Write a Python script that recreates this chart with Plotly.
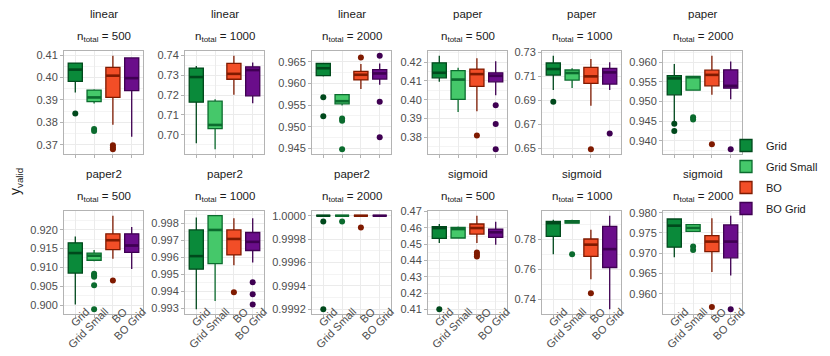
"""Faceted boxplots of y_valid per tuning method."""

import plotly.graph_objects as go

W, H = 830, 356

METHODS = ["Grid", "Grid Small", "BO", "BO Grid"]
PANEL_FN = ["linear"] * 3 + ["paper"] * 3 + ["paper2"] * 3 + ["sigmoid"] * 3
PANEL_N = [500, 1000, 2000] * 4

# box summaries, one row per panel, one value per method
LOWER = [
    [0.3933, 0.3884, 0.3789, 0.3736],
    [0.6958, 0.6928, 0.7201, 0.7159],
    [0.9616, 0.9549, 0.9587, 0.9597],
    [0.4095, 0.3934, 0.3939, 0.4023],
    [0.6986, 0.7003, 0.6856, 0.6986],
    [0.9447, 0.9528, 0.9517, 0.9506],
    [0.9002, 0.9116, 0.9123, 0.9096],
    [0.99293, 0.99342, 0.99553, 0.99569],
    [1.0, 1.0, 1.0, 1.0],
    [0.4507, 0.4538, 0.4507, 0.4497],
    [0.7702, 0.7910, 0.7535, 0.7333],
    [0.96902, 0.97541, 0.96533, 0.96451],
]
Q1 = [
    [0.3983, 0.3892, 0.3911, 0.3941],
    [0.7164, 0.7032, 0.7279, 0.7196],
    [0.9618, 0.9553, 0.9608, 0.9610],
    [0.4116, 0.4002, 0.4071, 0.4095],
    [0.7111, 0.7069, 0.7042, 0.7036],
    [0.9517, 0.9529, 0.9540, 0.9534],
    [0.9085, 0.9119, 0.9147, 0.9140],
    [0.99529, 0.99562, 0.99613, 0.99639],
    [1.0, 1.0, 1.0, 1.0],
    [0.4536, 0.4538, 0.4562, 0.4542],
    [0.7821, 0.7910, 0.7687, 0.7613],
    [0.97148, 0.97541, 0.97041, 0.96885],
]
MEDIAN = [
    [0.4035, 0.3911, 0.4008, 0.3997],
    [0.7290, 0.7050, 0.7306, 0.7325],
    [0.9635, 0.9559, 0.9620, 0.9623],
    [0.4143, 0.4107, 0.4136, 0.4127],
    [0.7161, 0.7128, 0.7100, 0.7133],
    [0.9559, 0.9562, 0.9568, 0.9540],
    [0.9138, 0.9131, 0.9172, 0.9158],
    [0.99606, 0.99760, 0.99707, 0.99690],
    [1.0, 1.0, 1.0, 1.0],
    [0.4599, 0.4593, 0.4599, 0.4573],
    [0.7910, 0.7919, 0.7766, 0.7736],
    [0.9768, 0.97623, 0.97287, 0.97287],
]
Q3 = [
    [0.4064, 0.3944, 0.4045, 0.4087],
    [0.7335, 0.7169, 0.7358, 0.7341],
    [0.9646, 0.9574, 0.9628, 0.9632],
    [0.4196, 0.4154, 0.4163, 0.4143],
    [0.7211, 0.7153, 0.7175, 0.7167],
    [0.9566, 0.9564, 0.9580, 0.9581],
    [0.9165, 0.9138, 0.9189, 0.9189],
    [0.99760, 0.99844, 0.99760, 0.99745],
    [1.0, 1.0, 1.0, 1.0],
    [0.4608, 0.4603, 0.4624, 0.4593],
    [0.7922, 0.7926, 0.7804, 0.7888],
    [0.97844, 0.97705, 0.97434, 0.97697],
]
UPPER = [
    [0.4067, 0.3948, 0.4097, 0.4087],
    [0.7345, 0.7179, 0.7397, 0.7363],
    [0.9647, 0.9574, 0.9645, 0.9646],
    [0.4234, 0.4170, 0.4220, 0.4205],
    [0.7272, 0.7167, 0.7244, 0.7217],
    [0.9596, 0.9566, 0.9617, 0.9602],
    [0.9182, 0.9146, 0.9237, 0.9207],
    [0.99833, 0.99844, 0.99829, 0.99829],
    [1.0, 1.0, 1.0, 1.0],
    [0.4624, 0.4608, 0.4675, 0.4638],
    [0.7933, 0.7933, 0.7866, 0.7960],
    [0.97844, 0.97705, 0.97861, 0.97926],
]
OUTLIERS = [
    [[0.3840], [0.3770, 0.3762], [0.3698, 0.3688, 0.3680], []],
    [[], [], [], []],
    [[0.9568, 0.9524], [0.9519, 0.9514, 0.9448], [0.9660], [0.9664, 0.9558, 0.9476]],
    [[], [], [0.3809], [0.3970, 0.3871, 0.3736]],
    [[0.6889], [], [0.6494], [0.6625]],
    [[0.9443, 0.9425], [0.9460, 0.9454], [0.9391], [0.9378]],
    [[], [0.9083, 0.9079, 0.9075, 0.9053, 0.8989], [0.9065], []],
    [[], [], [0.99393], [0.99452, 0.99382, 0.99322]],
    [[0.99995, 0.99920], [0.99995], [0.99990], []],
    [[0.4100], [], [0.4449, 0.4437, 0.4425], []],
    [[], [0.7702], [0.7441], []],
    [[], [0.97164, 0.97082], [0.95672], [0.95615]],
]

# y tick breaks per panel
TICK0 = [0.37, 0.70, 0.945, 0.38, 0.65, 0.94, 0.90, 0.993, 0.9992, 0.41, 0.74, 0.96]
DTICK = [0.01, 0.01, 0.005, 0.01, 0.02, 0.005, 0.005, 0.001, 0.0002, 0.01, 0.02, 0.005]
TICKFMT = [".2f", ".2f", ".3f", ".2f", ".2f", ".3f", ".3f", ".3f", ".4f", ".2f", ".2f", ".3f"]

FILL = ["#0A8A3A", "#45C86A", "#F24E27", "#6A0D8A"]
EDGE = ["#00491C", "#0B6B2E", "#7F1A00", "#3F0052"]

COL_PX = [(56, 135), (177, 256), (304, 383), (420, 499), (534, 613), (655, 734)]
ROW_PX = [(43, 146), (203, 306)]

FONT = "Liberation Sans, Arial, sans-serif"

fig = go.Figure()
layout = {}
annotations = []

for p in range(12):
    r, c = divmod(p, 6)
    sfx = "" if p == 0 else str(p + 1)
    xa, ya = "x" + sfx, "y" + sfx

    for m, name in enumerate(METHODS):
        fig.add_trace(go.Box(
            x=[name], q1=[Q1[p][m]], median=[MEDIAN[p][m]], q3=[Q3[p][m]],
            lowerfence=[LOWER[p][m]], upperfence=[UPPER[p][m]],
            name=name, legendgroup=name, showlegend=(p == 0),
            fillcolor=FILL[m], line=dict(color=EDGE[m], width=1.3),
            whiskerwidth=0, width=0.75, boxpoints=False, hoverinfo="skip",
            xaxis=xa, yaxis=ya,
        ))
        # thicker median bar like ggplot
        fig.add_trace(go.Scatter(
            x=[name], y=[MEDIAN[p][m]], mode="markers", showlegend=False,
            marker=dict(symbol="line-ew", size=10, line=dict(color=EDGE[m], width=2.6)),
            hoverinfo="skip", xaxis=xa, yaxis=ya,
        ))
        if OUTLIERS[p][m]:
            fig.add_trace(go.Scatter(
                x=[name] * len(OUTLIERS[p][m]), y=OUTLIERS[p][m], mode="markers",
                showlegend=False, marker=dict(color=EDGE[m], size=6),
                hoverinfo="skip", xaxis=xa, yaxis=ya,
            ))

    vals = LOWER[p] + UPPER[p] + [v for o in OUTLIERS[p] for v in o]
    lo, hi = min(vals), max(vals)
    pad = 0.05 * (hi - lo)
    lo, hi = lo - pad, hi + pad
    majors, k = [], 0
    while TICK0[p] + k * DTICK[p] <= hi + 1e-12:
        majors.append(round(TICK0[p] + k * DTICK[p], 6))
        k += 1
    minors = [round(t - DTICK[p] / 2, 7) for t in majors] + [round(majors[-1] + DTICK[p] / 2, 7)]
    minors = [t for t in minors if lo <= t <= hi]

    x0, x1 = COL_PX[c]
    y0, y1 = ROW_PX[r]
    layout["xaxis" + sfx] = dict(
        domain=[x0 / W, x1 / W], anchor=ya, type="category",
        categoryorder="array", categoryarray=METHODS, range=[-0.6, 3.6],
        showticklabels=(r == 1), tickangle=-45,
        ticklabelstandoff=-17, ticklabelshift=11,
        tickfont=dict(size=11, color="#4D4D4D"),
        ticks="outside", ticklen=3, tickcolor="#B3B3B3",
        showgrid=True, gridcolor="#EBEBEB", gridwidth=1,
        showline=True, mirror=True, linecolor="#B3B3B3", linewidth=1,
        zeroline=False, automargin=False,
    )
    layout["yaxis" + sfx] = dict(
        domain=[1 - y1 / H, 1 - y0 / H], anchor=xa, range=[lo, hi],
        tickmode="array", tickvals=majors, tickformat=TICKFMT[p],
        tickfont=dict(size=11, color="#4D4D4D"),
        ticks="outside", ticklen=3, tickcolor="#B3B3B3",
        showgrid=True, gridcolor="#EBEBEB", gridwidth=1,
        minor=dict(tickmode="array", tickvals=minors, showgrid=True,
                   gridcolor="#F4F4F4", gridwidth=0.6, ticklen=0),
        showline=True, mirror=True, linecolor="#B3B3B3", linewidth=1,
        zeroline=False, automargin=False,
    )

    cx = (x0 + x1) / 2 / W
    annotations.append(dict(
        text=PANEL_FN[p], x=cx, y=1 - (6 + 160 * r) / H, xref="paper", yref="paper",
        showarrow=False, xanchor="center", yanchor="middle",
        font=dict(size=11.5, color="#1A1A1A"),
    ))
    annotations.append(dict(
        text=f"n<sub>total</sub> = {PANEL_N[p]}", x=cx, y=1 - (29 + 160 * r) / H,
        xref="paper", yref="paper", showarrow=False, xanchor="center", yanchor="middle",
        font=dict(size=11.5, color="#1A1A1A"),
    ))

annotations.append(dict(
    text="y<sub>valid</sub>", x=8 / W, y=1 - 174 / H, xref="paper", yref="paper",
    showarrow=False, textangle=-90, xanchor="center", yanchor="middle",
    font=dict(size=14, color="#1A1A1A"),
))

fig.update_layout(
    **layout,
    annotations=annotations,
    width=W, height=H,
    margin=dict(l=0, r=0, t=0, b=0),
    paper_bgcolor="white", plot_bgcolor="white",
    font=dict(family=FONT, color="#1A1A1A"),
    boxmode="overlay",
    legend=dict(
        x=718 / W, y=1 - 123 / H, xanchor="left", yanchor="top",
        font=dict(size=11, color="#1A1A1A"), tracegroupgap=2,
        bgcolor="rgba(0,0,0,0)",
    ),
)

fig.write_html("out.html")
